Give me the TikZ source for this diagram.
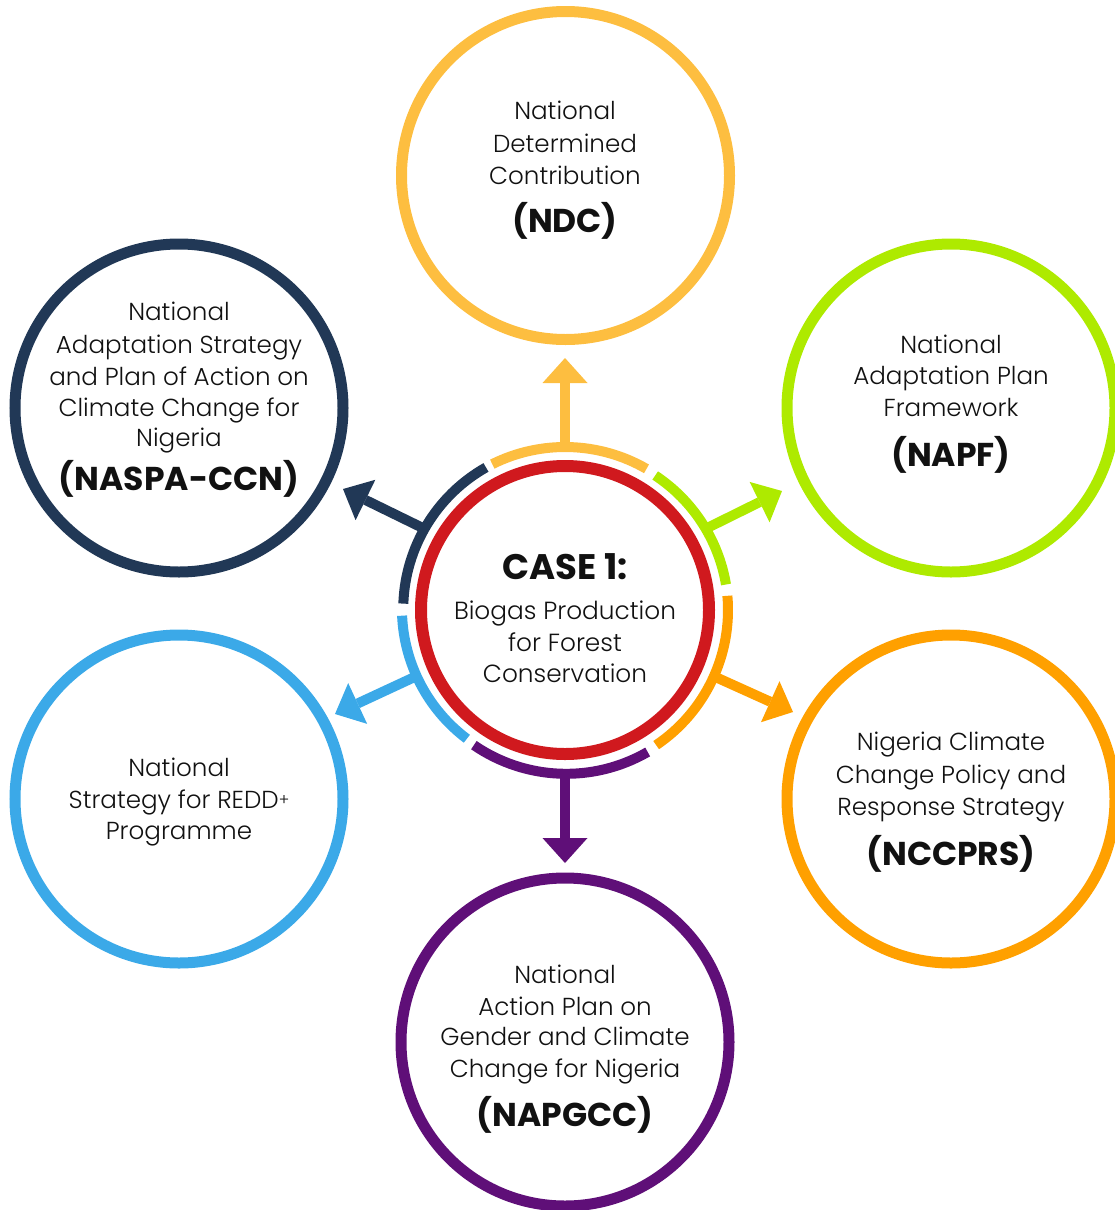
\documentclass[tikz,border=0pt]{standalone}
\usepackage{fontspec}
\setmainfont{Poppins}[UprightFont={* Light}, BoldFont={* Bold}]
\usetikzlibrary{arrows.meta}

\definecolor{yellowc}{HTML}{FDBE40}
\definecolor{greenc}{HTML}{AEEA00}
\definecolor{orangec}{HTML}{FFA000}
\definecolor{purplec}{HTML}{5F0F78}
\definecolor{bluec}{HTML}{3BA9E8}
\definecolor{navyc}{HTML}{213856}
\definecolor{redc}{HTML}{D0191E}
\definecolor{inkc}{HTML}{111111}

\begin{document}
\begin{tikzpicture}[x=1pt,y=-1pt,
  ring/.style={circle, draw=#1, line width=11pt, minimum size=328pt, inner sep=0pt, outer sep=0pt},
  seg/.style={draw=#1, line width=10pt},
  link/.style={draw=#1, line width=10pt, -{Triangle[length=25pt,width=45pt,line width=0pt]}},
  body/.style={anchor=base, inner sep=0pt, text=inkc, font=\fontsize{24.6}{28}\selectfont},
  abbr/.style={anchor=base, inner sep=0pt, text=inkc, font=\fontsize{33}{36}\selectfont\bfseries},
  hubbody/.style={anchor=base, inner sep=0pt, text=inkc, font=\fontsize{24.8}{30}\selectfont},
  hubtitle/.style={anchor=base, inner sep=0pt, text=inkc, font=\fontsize{35.5}{40}\selectfont\bfseries},
]
\useasboundingbox (0,0) rectangle (1115,1210);
\clip (0,0) rectangle (1115,1210);

% central hub: red core and the coloured segmented ring around it
\node[circle, draw=redc, line width=12pt, minimum size=288pt, inner sep=0pt] (core) at (565,610) {};
\node[circle, minimum size=326pt, inner sep=0pt, outer sep=0pt] (hub) at (565,610) {};

\draw[seg=yellowc] (hub.60)    arc[start angle=60,    end angle=116.5, radius=163pt];
\draw[seg=greenc]  (hub.9.5)   arc[start angle=9.5,   end angle=56.5,  radius=163pt];
\draw[seg=orangec] (hub.-56)   arc[start angle=-56,   end angle=5,     radius=163pt];
\draw[seg=purplec] (hub.-124.5) arc[start angle=-124.5, end angle=-60, radius=163pt];
\draw[seg=bluec]   (hub.182.5) arc[start angle=182.5, end angle=233,   radius=163pt];
\draw[seg=navyc]   (hub.119.5) arc[start angle=119.5, end angle=178,   radius=163pt];

\node[hubtitle] (hubt) at (565,579) {CASE 1:};
\node[hubbody] (hub1) at (565,619) {Biogas Production};
\node[hubbody] (hub2) at (565,651) {for Forest};
\node[hubbody] (hub3) at (565,682) {Conservation};

% the six surrounding policy circles
\node[ring=yellowc] (ndc)    at (565.5,175.5) {};
\node[ring=greenc]  (napf)   at (951,408) {};
\node[ring=orangec] (nccprs) at (951,799) {};
\node[ring=purplec] (napgcc) at (565,1042) {};
\node[ring=bluec]   (redd)   at (179,799) {};
\node[ring=navyc]   (naspa)  at (179,408) {};

% NDC
\node[body] at (565,119) {National};
\node[body] at (565,152) {Determined};
\node[body] at (565,184) {Contribution};
\node[abbr] at (565,232) {(NDC)};

% NAPF
\node[body] at (951,353) {National};
\node[body] at (951,384) {Adaptation Plan};
\node[body] at (951,416) {Framework};
\node[abbr] at (951,466) {(NAPF)};

% NCCPRS
\node[body] at (951,750) {Nigeria Climate};
\node[body] at (951,783) {Change Policy and};
\node[body] at (951,815) {Response Strategy};
\node[abbr] at (951,865) {(NCCPRS)};

% NAPGCC
\node[body] at (565,983) {National};
\node[body] at (565,1015) {Action Plan on};
\node[body] at (565,1045) {Gender and Climate};
\node[body] at (565,1077) {Change for Nigeria};
\node[abbr] at (565,1126) {(NAPGCC)};

% REDD+
\node[body] at (179,776) {National};
\node[body] at (179,808) {Strategy for REDD{\fontsize{16}{16}\selectfont\raisebox{2.5pt}{+}}};
\node[body] at (179,839) {Programme};

% NASPA-CCN
\node[body] at (179,320) {National};
\node[body] at (179,353) {Adaptation Strategy};
\node[body] at (179,385) {and Plan of Action on};
\node[body] at (179,416) {Climate Change for};
\node[body] at (179,446) {Nigeria};
\node[abbr] at (179,490) {(NASPA-CCN)};

% arrow tips pointing at each policy circle
\coordinate (tipndc)    at (565,358);
\coordinate (tipnapf)   at (782,491);
\coordinate (tipnccprs) at (793,712);
\coordinate (tipnapgcc) at (565,863);
\coordinate (tipredd)   at (335,714);
\coordinate (tipnaspa)  at (343,489);

\draw[link=yellowc] (hub.north) -- (tipndc);
\draw[link=greenc]  (hub.30)    -- (tipnapf);
\draw[link=orangec] (hub.-24)   -- (tipnccprs);
\draw[link=purplec] (hub.south) -- (tipnapgcc);
\draw[link=bluec]   (hub.204)   -- (tipredd);
\draw[link=navyc]   (hub.150)   -- (tipnaspa);
\end{tikzpicture}
\end{document}
